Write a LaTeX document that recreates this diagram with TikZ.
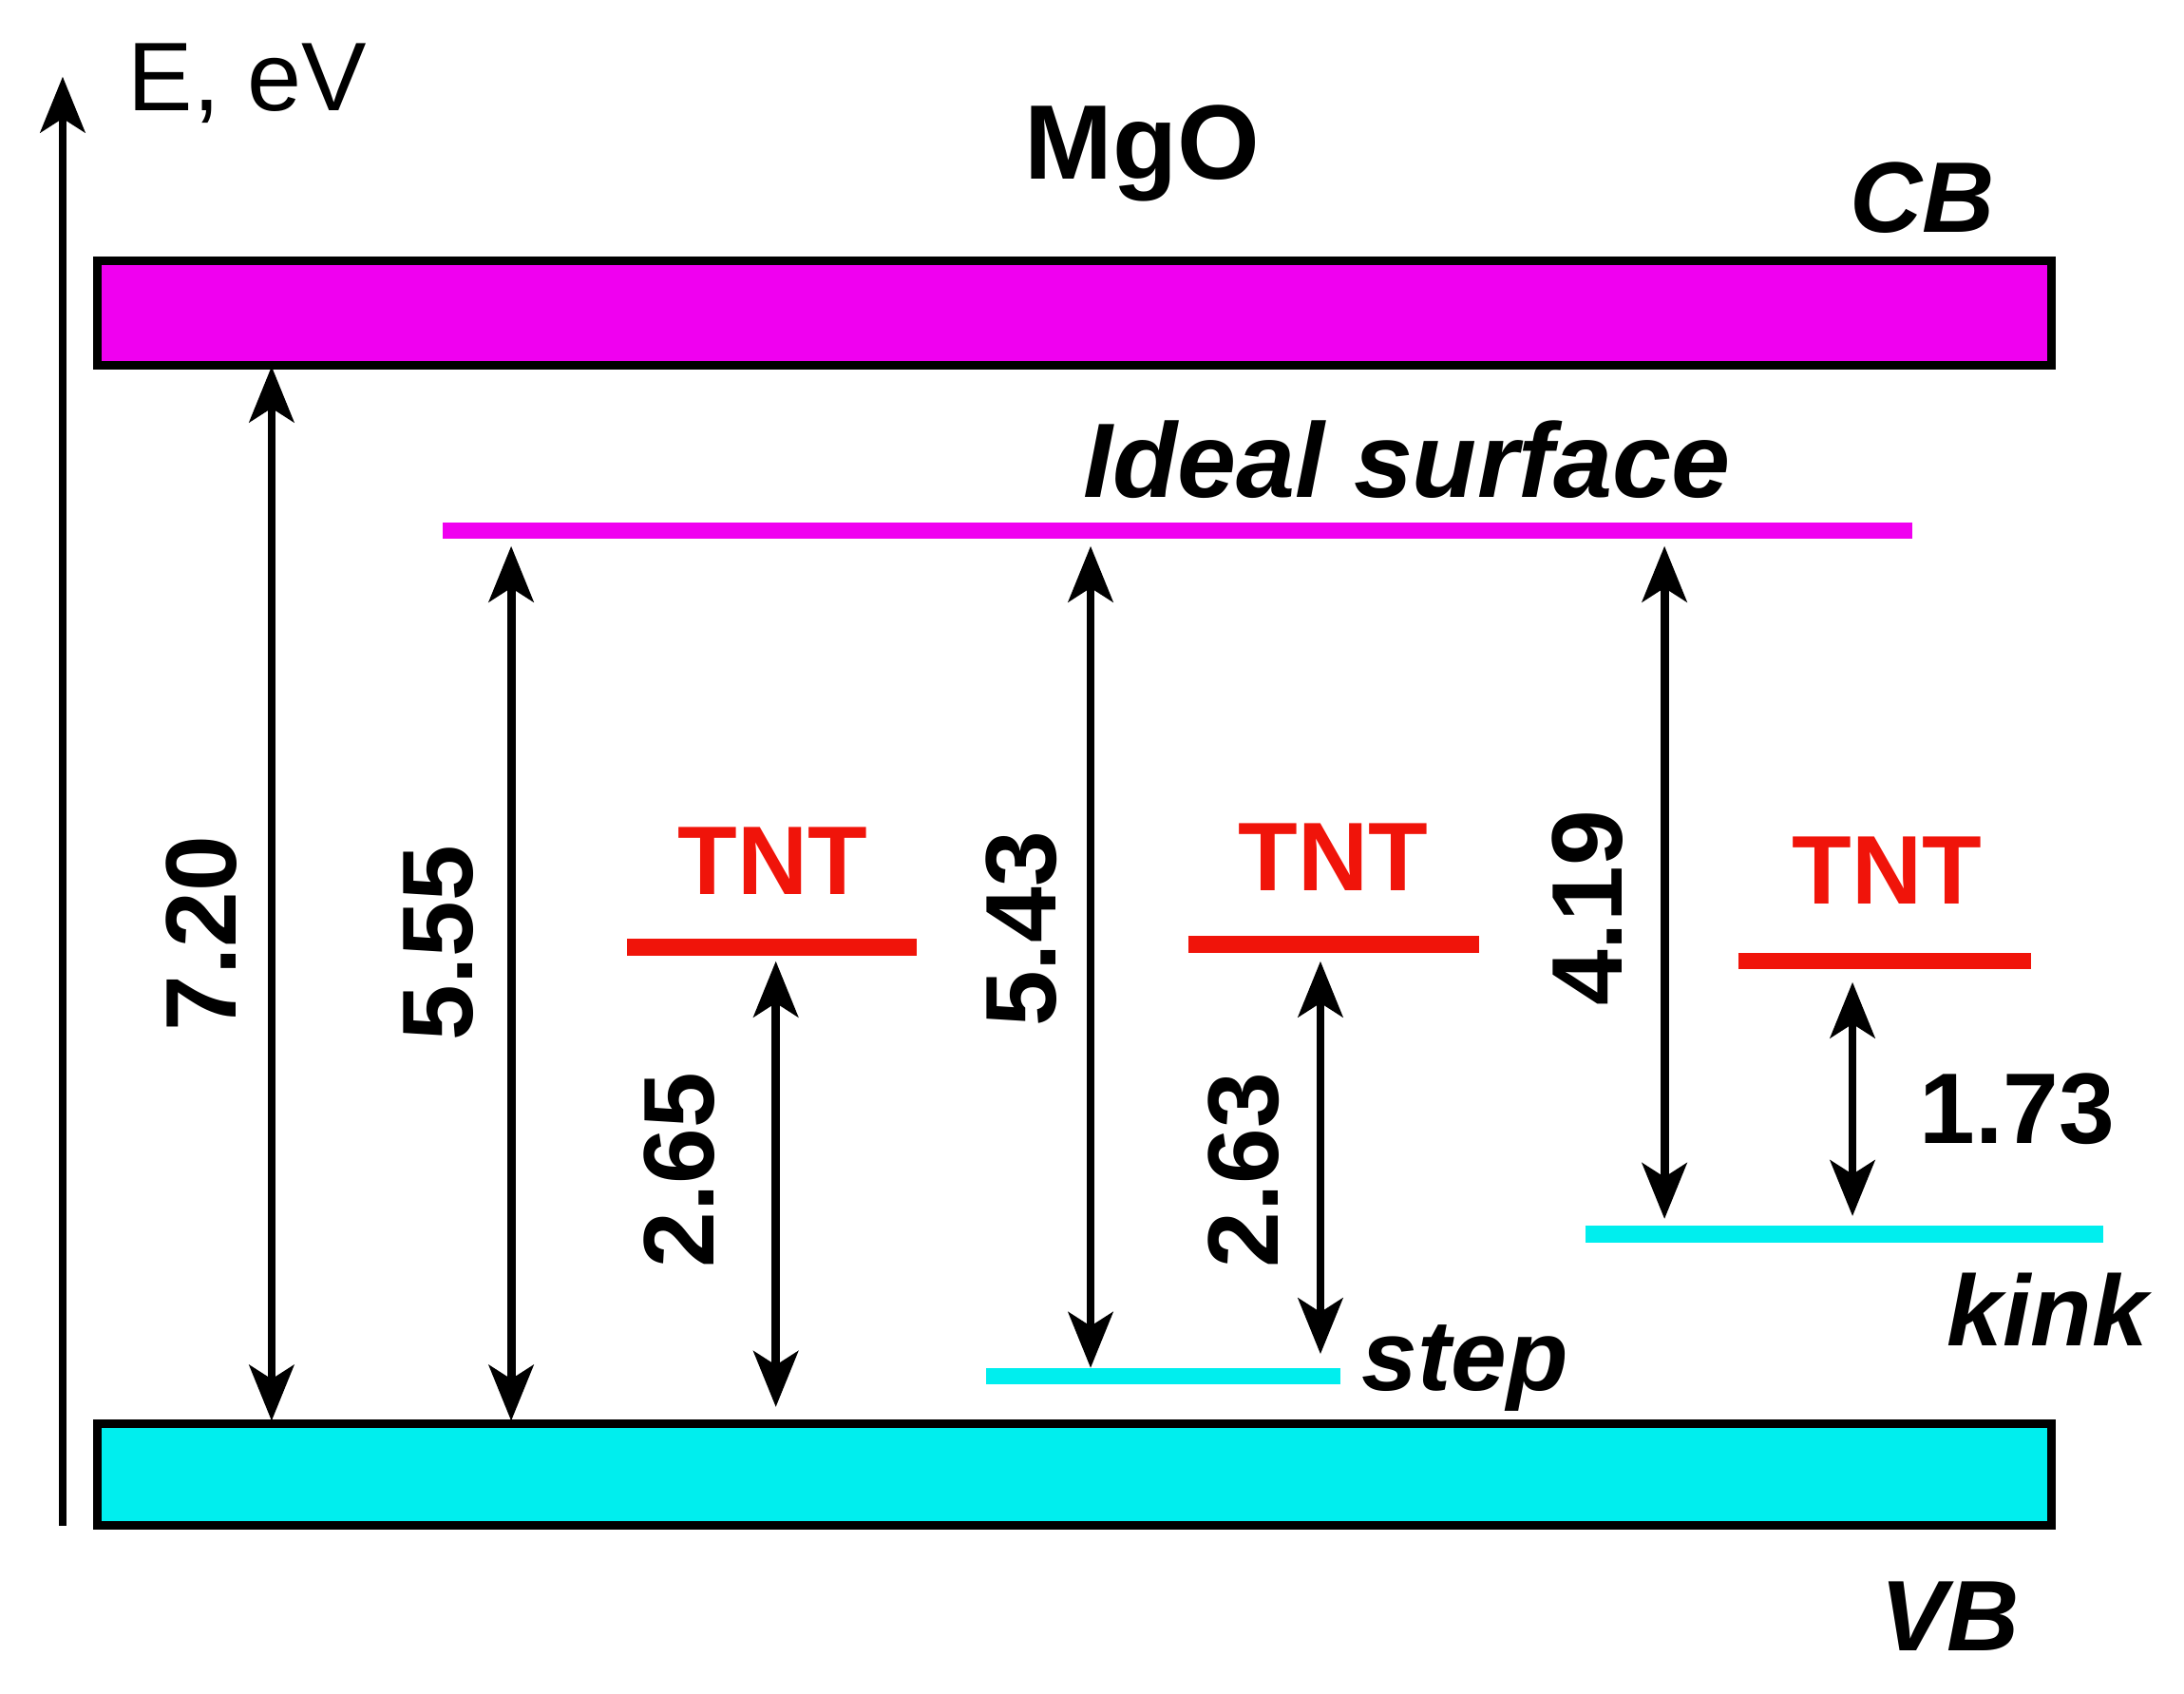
\documentclass[tikz,border=0pt]{standalone}
\usepackage{fontspec}
\setmainfont{Liberation Sans}
\usetikzlibrary{arrows.meta}
\definecolor{mag}{RGB}{240,0,240}
\definecolor{cy}{RGB}{0,238,238}
\definecolor{rd}{RGB}{240,20,10}
\begin{document}
\begin{tikzpicture}[x=0.5pt,y=-0.5pt,
  band/.style={draw=black,line width=3pt},
  lvl/.style={line width=6pt},
  dbl/.style={line width=3pt,{Stealth[length=20pt,width=16pt,inset=5pt]}-{Stealth[length=20pt,width=16pt,inset=5pt]}},
  num/.style={font=\fontsize{36}{40}\selectfont\bfseries,rotate=90},
  lab/.style={font=\fontsize{36}{40}\selectfont\bfseries\itshape},
  tnt/.style={font=\fontsize{35}{40}\selectfont\bfseries,text=rd}]
\useasboundingbox (0,0) rectangle (1568,1216);
\coordinate (ab) at (45,1095); \coordinate (at) at (45,55);
\draw[line width=3pt,-{Stealth[length=20pt,width=16pt,inset=5pt]}] (ab) -- (at);
\node[font=\fontsize{35}{40}\selectfont,anchor=west] (e) at (85,60) {E, eV};
\node[font=\fontsize{38}{44}\selectfont\bfseries] (mgo) at (820,110) {MgO};
\node[lab] (cbl) at (1380,142) {CB};
\node[lab] (vbl) at (1400,1160) {VB};
\node[band,fill=mag,minimum width=701.5pt,minimum height=37.5pt,inner sep=0] (cb) at (771.5,224.5) {};
\node[band,fill=cy,minimum width=701.5pt,minimum height=36.5pt,inner sep=0] (vb) at (771.5,1058.5) {};
\draw[lvl,mag] (318,381) coordinate (isl) -- (1373,381) coordinate (isr);
\node[lab,font=\fontsize{38}{40}\selectfont\bfseries\itshape] (isn) at (1010,330) {Ideal surface};
\draw[lvl,cy] (708,988) coordinate (stl) -- (962,988) coordinate (str);
\node[lab] (stn) at (1052,982) {step};
\draw[lvl,cy] (1138,886) coordinate (kl) -- (1510,886) coordinate (kr);
\node[lab] (kn) at (1470,940) {kink};
\draw[lvl,rd] (450,680) -- (658,680); \node[tnt] (t1) at (555,618) {TNT};
\draw[lvl,rd] (853,678) -- (1062,678); \node[tnt] (t2) at (957,615) {TNT};
\draw[lvl,rd] (1248,690) -- (1458,690); \node[tnt] (t3) at (1355,625) {TNT};
\coordinate (a1t) at (195,263); \coordinate (a1b) at (195,1020);
\coordinate (a2t) at (367,392); \coordinate (a2b) at (367,1020);
\coordinate (a3t) at (557,690); \coordinate (a3b) at (557,1010);
\coordinate (a4t) at (783,392); \coordinate (a4b) at (783,982);
\coordinate (a5t) at (948,690); \coordinate (a5b) at (948,972);
\coordinate (a6t) at (1195,392); \coordinate (a6b) at (1195,875);
\coordinate (a7t) at (1330,705); \coordinate (a7b) at (1330,873);
\foreach \a in {1,...,7}{\draw[dbl] (a\a t) -- (a\a b);}
\node[num] (n1) at (145,670) {7.20};
\node[num] (n2) at (315,677) {5.55};
\node[num] (n3) at (488,840) {2.65};
\node[num] (n4) at (733,667) {5.43};
\node[num] (n5) at (893,840) {2.63};
\node[num] (n6) at (1140,652) {4.19};
\node[font=\fontsize{36}{40}\selectfont\bfseries] (n7) at (1448,796) {1.73};
\end{tikzpicture}
\end{document}
